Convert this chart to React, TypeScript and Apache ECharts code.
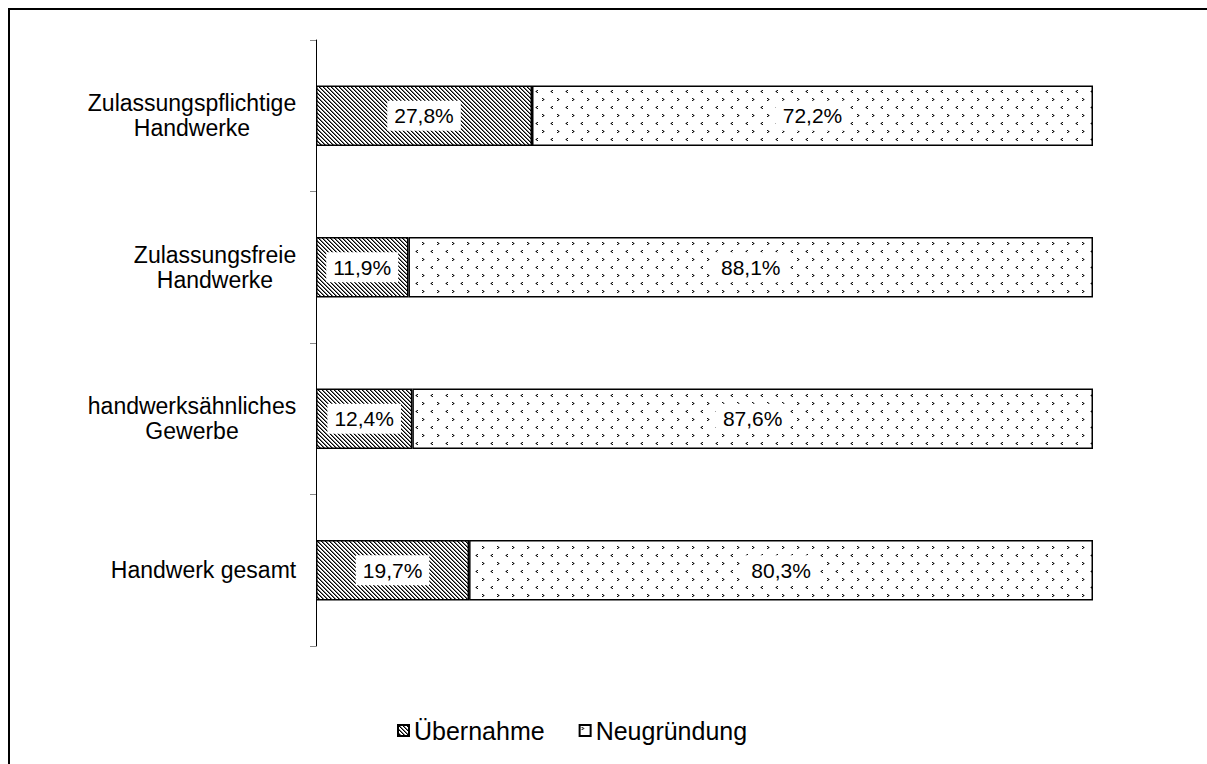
import React, { useEffect, useRef } from "react";
import * as echarts from "echarts";

const categories = [
  "Zulassungspflichtige\nHandwerke",
  "Zulassungsfreie\nHandwerke",
  "handwerksähnliches\nGewerbe",
  "Handwerk gesamt",
];
const seriesNames = ["Übernahme", "Neugründung"];
const uebernahme = [27.8, 11.9, 12.4, 19.7];
const neugruendung = [72.2, 88.1, 87.6, 80.3];

const FONT = '"Liberation Sans", Arial, sans-serif';
const FS_CAT = 23;
const FS_LBL = 21;
const FS_LEG = 25;

function hatchPattern(): HTMLCanvasElement {
  const c = document.createElement("canvas");
  c.width = 4;
  c.height = 4;
  const ctx = c.getContext("2d")!;
  ctx.fillStyle = "#fff";
  ctx.fillRect(0, 0, 4, 4);
  for (let y = 0; y < 4; y++) {
    for (let x = 0; x < 4; x++) {
      const d = (((x - y) % 4) + 4) % 4;
      if (d === 0) {
        ctx.fillStyle = "#000";
        ctx.fillRect(x, y, 1, 1);
      } else if (d === 1) {
        ctx.fillStyle = "#777";
        ctx.fillRect(x, y, 1, 1);
      }
    }
  }
  return c;
}

function px(ctx: CanvasRenderingContext2D, x: number, y: number, col: string) {
  ctx.fillStyle = col;
  ctx.fillRect(x, y, 1, 1);
}

function chevronPattern(): HTMLCanvasElement {
  const c = document.createElement("canvas");
  c.width = 15;
  c.height = 16;
  const ctx = c.getContext("2d")!;
  ctx.fillStyle = "#fff";
  ctx.fillRect(0, 0, 15, 16);
  // ">"
  px(ctx, 2, 2, "#111");
  px(ctx, 3, 3, "#111");
  px(ctx, 2, 4, "#111");
  px(ctx, 3, 2, "#999");
  px(ctx, 4, 3, "#999");
  px(ctx, 3, 4, "#999");
  // "<"
  px(ctx, 12, 10, "#111");
  px(ctx, 11, 11, "#111");
  px(ctx, 12, 12, "#111");
  px(ctx, 11, 10, "#999");
  px(ctx, 10, 11, "#999");
  px(ctx, 11, 12, "#999");
  return c;
}

function fmtPct(v: number): string {
  return v.toFixed(1).replace(".", ",") + "%";
}

export default function App() {
  const ref = useRef<HTMLDivElement>(null);
  useEffect(() => {
    if (!ref.current) return;
    const chart = echarts.init(ref.current, undefined, { renderer: "svg" });

    const mc = document.createElement("canvas").getContext("2d")!;
    mc.font = `${FS_CAT}px ${FONT}`;
    const rich: Record<string, any> = {};
    categories.forEach((cat, i) => {
      const lines = cat.split("\n");
      const w = Math.max(...lines.map((l) => mc.measureText(l).width));
      rich["c" + i] = {
        width: Math.ceil(w) + 1,
        align: "center",
        fontSize: FS_CAT,
        fontFamily: FONT,
        color: "#000",
        lineHeight: 25,
      };
    });

    const hatch = { image: hatchPattern(), repeat: "repeat" };
    const chev = { image: chevronPattern(), repeat: "repeat" };

    const labelCfg = {
      show: true,
      position: "inside",
      formatter: (p: any) => fmtPct(p.value),
      color: "#000",
      fontSize: FS_LBL,
      fontFamily: FONT,
      backgroundColor: "#fff",
      padding: [5, 7, 4, 7],
    };

    chart.setOption({
      animation: false,
      textStyle: { fontFamily: FONT },
      grid: { left: 316, right: 114, top: 40, bottom: 118, containLabel: false },
      xAxis: {
        type: "value",
        min: 0,
        max: 100,
        show: false,
      },
      yAxis: {
        type: "category",
        data: categories,
        inverse: true,
        axisLine: { show: true, lineStyle: { color: "#000", width: 1 } },
        axisTick: { show: true, length: 6, lineStyle: { color: "#888", width: 1 } },
        axisLabel: {
          margin: 19,
          align: "right",
          formatter: (v: string) => {
            const i = categories.indexOf(v);
            return v
              .split("\n")
              .map((l) => `{c${i}|${l}}`)
              .join("\n");
          },
          rich,
        },
        splitLine: { show: false },
      },
      legend: {
        left: 397,
        top: 718,
        padding: 0,
        itemWidth: 11,
        itemHeight: 11,
        itemGap: 34,
        icon: "rect",
        textStyle: {
          fontSize: FS_LEG,
          fontFamily: FONT,
          color: "#000",
        },
        data: seriesNames,
      },
      series: [
        {
          name: seriesNames[0],
          type: "bar",
          stack: "total",
          barCategoryGap: "60%",
          data: uebernahme,
          itemStyle: { color: hatch, borderColor: "#000", borderWidth: 1.5 },
          label: labelCfg,
        },
        {
          name: seriesNames[1],
          type: "bar",
          stack: "total",
          barCategoryGap: "60%",
          data: neugruendung,
          itemStyle: { color: chev, borderColor: "#000", borderWidth: 1.5 },
          label: labelCfg,
        },
      ],
    });
    return () => chart.dispose();
  }, []);
  return (
    <div
      style={{
        position: "fixed",
        left: 0,
        top: 0,
        width: 1207,
        height: 764,
        background: "#fff",
        overflow: "hidden",
      }}
    >
      <div
        style={{ position: "absolute", left: 8, top: 8, width: 1199, height: 2, background: "#000" }}
      />
      <div
        style={{ position: "absolute", left: 8, top: 8, width: 2, height: 756, background: "#000" }}
      />
      <div ref={ref} style={{ position: "absolute", left: 0, top: 0, width: 1207, height: 764 }} />
    </div>
  );
}
